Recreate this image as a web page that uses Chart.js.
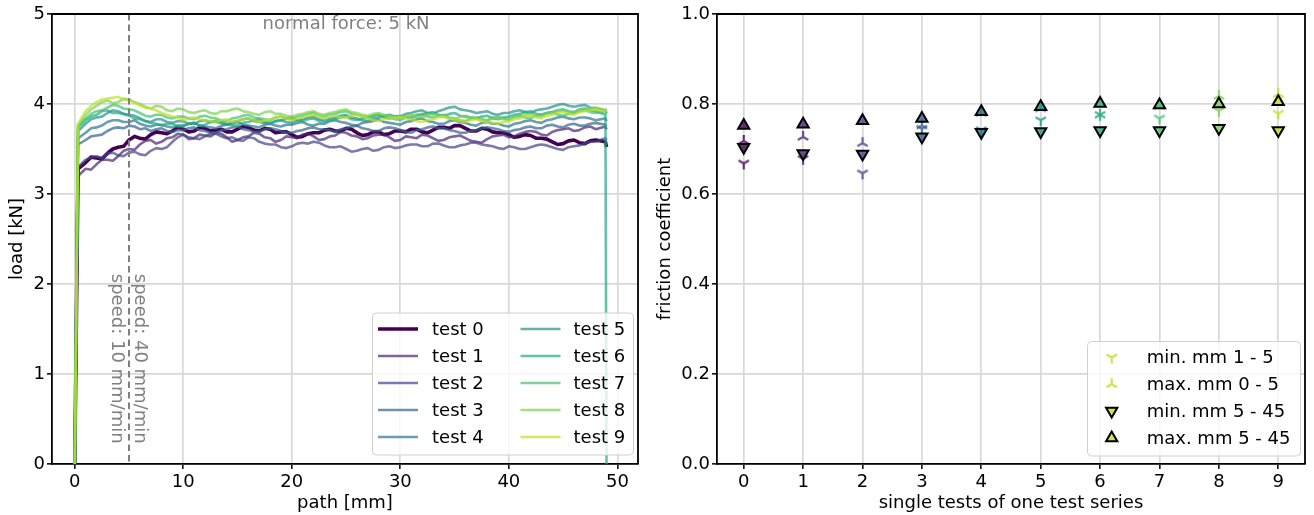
<!DOCTYPE html>
<html><head><meta charset="utf-8">
<script src="https://cdn.jsdelivr.net/npm/chart.js@4.4.1/dist/chart.umd.min.js"></script>
<style>
html,body{margin:0;padding:0;background:#fff;}
#wrap{position:relative;width:1314px;height:515px;overflow:hidden;}
canvas{position:absolute;top:0;}
</style></head><body>
<div id="wrap">
<canvas id="c1" width="650" height="515" style="left:0;width:650px;height:515px"></canvas>
<canvas id="c2" width="664" height="515" style="left:650px;width:664px;height:515px"></canvas>
</div>
<script>
// ---------- data: left chart (load vs path) ----------
const pathMm = [0,0.3,1,2,3,4,5,6,7,8,9,10,11,12,13,14,15,16,17,18,19,20,21,22,23,24,25,26,27,28,29,30,31,32,33,34,35,36,37,38,39,40,41,42,43,44,45,46,47,48,48.9,49.0];
const halfPathMm = [1.5,2.5,3.5,4.5,5.5,6.5,7.5,8.5,9.5,10.5,11.5,12.5,13.5,14.5,15.5,16.5,17.5,18.5,19.5,20.5,21.5,22.5,23.5,24.5,25.5,26.5,27.5,28.5,29.5,30.5,31.5,32.5,33.5,34.5,35.5,36.5,37.5,38.5,39.5,40.5,41.5,42.5,43.5,44.5,45.5,46.5,47.5];

const test0 = [0,3.28,3.35,3.40,3.45,3.52,3.60,3.62,3.66,3.68,3.70,3.72,3.70,3.73,3.71,3.69,3.72,3.74,3.70,3.72,3.69,3.66,3.64,3.68,3.71,3.70,3.73,3.68,3.66,3.69,3.67,3.70,3.72,3.69,3.71,3.74,3.76,3.73,3.70,3.72,3.68,3.66,3.64,3.65,3.62,3.58,3.56,3.60,3.56,3.60,3.58,3.52];
const test0Half = [3.41,3.39,3.50,3.53,3.64,3.61,3.69,3.67,3.74,3.69,3.74,3.70,3.72,3.69,3.75,3.71,3.73,3.68,3.69,3.63,3.67,3.68,3.72,3.70,3.72,3.65,3.69,3.66,3.70,3.69,3.72,3.68,3.74,3.73,3.76,3.70,3.73,3.69,3.68,3.63,3.66,3.62,3.61,3.55,3.59,3.57,3.59];
const test1 = [0,3.20,3.28,3.33,3.38,3.42,3.50,3.55,3.60,3.58,3.63,3.66,3.62,3.65,3.68,3.63,3.60,3.64,3.67,3.62,3.60,3.63,3.66,3.64,3.61,3.65,3.68,3.64,3.62,3.66,3.63,3.60,3.63,3.66,3.62,3.60,3.64,3.62,3.58,3.61,3.65,3.63,3.67,3.70,3.66,3.69,3.72,3.70,3.74,3.72,3.75,3.72];
const test1Half = [3.27,3.38,3.37,3.48,3.49,3.59,3.56,3.62,3.67,3.61,3.66,3.64,3.67,3.58,3.63,3.68,3.63,3.58,3.64,3.62,3.67,3.60,3.64,3.69,3.65,3.61,3.65,3.66,3.59,3.64,3.62,3.65,3.59,3.63,3.65,3.59,3.57,3.64,3.66,3.64,3.69,3.69,3.65,3.71,3.73,3.71,3.75];
const test2 = [0,3.30,3.38,3.42,3.45,3.43,3.46,3.44,3.48,3.50,3.58,3.66,3.62,3.64,3.67,3.62,3.60,3.63,3.58,3.55,3.52,3.53,3.57,3.58,3.54,3.52,3.50,3.48,3.51,3.49,3.53,3.52,3.55,3.53,3.56,3.54,3.52,3.55,3.57,3.54,3.51,3.53,3.50,3.52,3.55,3.52,3.49,3.53,3.56,3.58,3.62,3.60];
const test2Half = [3.41,3.40,3.46,3.42,3.47,3.43,3.51,3.52,3.63,3.63,3.61,3.67,3.64,3.63,3.59,3.62,3.56,3.55,3.51,3.56,3.56,3.57,3.52,3.53,3.47,3.50,3.48,3.52,3.51,3.54,3.55,3.53,3.56,3.52,3.54,3.57,3.55,3.53,3.50,3.52,3.50,3.54,3.54,3.50,3.52,3.54,3.58];
const test3 = [0,3.55,3.60,3.65,3.70,3.74,3.76,3.72,3.70,3.73,3.69,3.71,3.74,3.70,3.68,3.72,3.75,3.71,3.69,3.73,3.70,3.68,3.71,3.74,3.72,3.69,3.73,3.76,3.72,3.70,3.74,3.71,3.68,3.72,3.75,3.73,3.70,3.68,3.71,3.74,3.72,3.69,3.72,3.75,3.73,3.77,3.74,3.78,3.76,3.79,3.77,3.76];
const test3Half = [3.64,3.66,3.73,3.73,3.75,3.73,3.72,3.70,3.71,3.73,3.71,3.68,3.71,3.74,3.72,3.69,3.72,3.72,3.68,3.70,3.73,3.72,3.71,3.72,3.75,3.73,3.70,3.73,3.73,3.69,3.71,3.74,3.73,3.71,3.68,3.70,3.73,3.73,3.70,3.71,3.74,3.73,3.76,3.75,3.77,3.76,3.78];
const test4 = [0,3.62,3.68,3.74,3.80,3.82,3.80,3.78,3.75,3.77,3.74,3.76,3.79,3.75,3.73,3.77,3.80,3.76,3.74,3.78,3.75,3.77,3.80,3.76,3.78,3.82,3.79,3.76,3.80,3.83,3.79,3.77,3.81,3.84,3.80,3.78,3.82,3.79,3.76,3.80,3.78,3.75,3.79,3.82,3.79,3.83,3.86,3.83,3.85,3.82,3.84,3.81];
const test4Half = [3.73,3.76,3.82,3.80,3.82,3.76,3.77,3.75,3.76,3.78,3.76,3.74,3.76,3.78,3.77,3.75,3.77,3.76,3.77,3.79,3.77,3.78,3.81,3.80,3.77,3.79,3.81,3.80,3.78,3.80,3.83,3.81,3.78,3.81,3.80,3.77,3.79,3.78,3.76,3.78,3.81,3.80,3.82,3.85,3.84,3.85,3.84];
const test5 = [0,3.70,3.78,3.85,3.90,3.92,3.88,3.84,3.80,3.83,3.79,3.81,3.78,3.82,3.80,3.77,3.81,3.84,3.80,3.78,3.82,3.79,3.83,3.86,3.82,3.85,3.88,3.84,3.81,3.85,3.88,3.86,3.90,3.93,3.89,3.94,3.97,3.93,3.90,3.92,3.88,3.90,3.93,3.90,3.94,3.97,4.00,3.97,3.99,3.95,3.93,3.90];
const test5Half = [3.83,3.86,3.93,3.89,3.87,3.81,3.83,3.80,3.81,3.78,3.81,3.80,3.79,3.80,3.83,3.81,3.79,3.81,3.80,3.82,3.85,3.83,3.84,3.87,3.85,3.82,3.84,3.87,3.86,3.89,3.92,3.90,3.92,3.96,3.94,3.92,3.91,3.89,3.90,3.92,3.91,3.93,3.95,3.99,3.98,3.98,3.96];
const test6 = [0,3.74,3.82,3.88,3.93,3.90,3.87,3.83,3.79,3.76,3.78,3.75,3.79,3.77,3.81,3.78,3.76,3.80,3.83,3.79,3.82,3.85,3.81,3.84,3.80,3.83,3.86,3.82,3.85,3.88,3.84,3.87,3.84,3.88,3.91,3.87,3.90,3.86,3.84,3.87,3.83,3.86,3.89,3.92,3.88,3.91,3.94,3.91,3.95,3.92,3.88,0];
const test6Half = [3.86,3.92,3.90,3.89,3.84,3.81,3.78,3.78,3.75,3.78,3.76,3.80,3.80,3.76,3.79,3.82,3.80,3.81,3.84,3.82,3.83,3.81,3.82,3.85,3.83,3.84,3.87,3.85,3.86,3.85,3.87,3.90,3.88,3.89,3.87,3.85,3.86,3.84,3.85,3.88,3.91,3.89,3.90,3.93,3.92,3.94,3.93];
const test7 = [0,3.76,3.84,3.92,3.96,3.98,3.94,3.90,3.86,3.88,3.84,3.86,3.83,3.87,3.84,3.81,3.85,3.88,3.84,3.82,3.86,3.83,3.87,3.90,3.86,3.89,3.92,3.88,3.85,3.88,3.85,3.82,3.86,3.89,3.85,3.88,3.84,3.81,3.85,3.82,3.86,3.83,3.87,3.84,3.88,3.91,3.87,3.90,3.93,3.90,3.92,3.89];
const test7Half = [3.89,3.93,3.99,3.95,3.93,3.87,3.88,3.85,3.86,3.84,3.86,3.85,3.82,3.84,3.87,3.85,3.83,3.85,3.84,3.86,3.89,3.87,3.88,3.91,3.89,3.86,3.87,3.86,3.83,3.85,3.88,3.86,3.87,3.85,3.82,3.84,3.83,3.85,3.84,3.86,3.85,3.87,3.90,3.88,3.89,3.92,3.91];
const test8 = [0,3.76,3.88,3.98,4.04,4.02,4.05,4.00,3.95,3.97,3.92,3.94,3.90,3.93,3.89,3.92,3.95,3.91,3.88,3.92,3.89,3.86,3.89,3.92,3.88,3.91,3.94,3.90,3.87,3.90,3.87,3.84,3.88,3.85,3.89,3.86,3.83,3.87,3.84,3.81,3.85,3.82,3.86,3.89,3.86,3.90,3.93,3.90,3.94,3.96,3.93,3.95];
const test8Half = [3.94,4.02,4.01,4.06,4.02,3.97,3.98,3.93,3.95,3.91,3.92,3.90,3.92,3.94,3.92,3.89,3.91,3.89,3.87,3.88,3.91,3.89,3.90,3.93,3.91,3.88,3.89,3.88,3.85,3.87,3.86,3.88,3.87,3.84,3.86,3.85,3.82,3.84,3.83,3.85,3.88,3.87,3.89,3.92,3.91,3.93,3.95];
const test9 = [0,3.78,3.92,4.02,4.06,4.08,4.04,3.98,3.95,3.90,3.86,3.82,3.85,3.82,3.80,3.83,3.81,3.84,3.80,3.83,3.86,3.82,3.85,3.88,3.84,3.87,3.85,3.88,3.84,3.81,3.84,3.86,3.83,3.80,3.83,3.86,3.83,3.80,3.83,3.80,3.78,3.81,3.84,3.87,3.84,3.88,3.91,3.88,3.92,3.94,3.92,3.93];
const test9Half = [3.98,4.05,4.07,4.05,4.02,3.96,3.93,3.88,3.85,3.84,3.83,3.81,3.82,3.80,3.83,3.82,3.82,3.85,3.84,3.84,3.87,3.86,3.86,3.85,3.87,3.86,3.82,3.83,3.85,3.84,3.81,3.82,3.85,3.84,3.81,3.82,3.81,3.79,3.80,3.83,3.86,3.85,3.87,3.90,3.89,3.91,3.93];

const loadSeries = [test0,test1,test2,test3,test4,test5,test6,test7,test8,test9];
const loadSeriesHalf = [test0Half,test1Half,test2Half,test3Half,test4Half,test5Half,test6Half,test7Half,test8Half,test9Half];
const testLabels = ['test 0','test 1','test 2','test 3','test 4','test 5','test 6','test 7','test 8','test 9'];
const leftXTicks = [0,10,20,30,40,50];
const leftYTicks = [0,1,2,3,4,5];
const speedChangeMm = 5;

// ---------- data: right chart (friction coefficient) ----------
const testIndex = [0,1,2,3,4,5,6,7,8,9];
const minMm1to5  = [0.668,0.678,0.646,0.745,0.742,0.764,0.776,0.768,0.785,0.779];
const maxMm0to5  = [0.718,0.727,0.713,0.752,0.780,0.790,0.776,0.795,0.818,0.822];
const minMm5to45 = [0.704,0.690,0.689,0.727,0.737,0.739,0.741,0.741,0.746,0.741];
const maxMm5to45 = [0.752,0.755,0.763,0.768,0.783,0.794,0.801,0.798,0.800,0.805];
const rightYTicks = [0,0.2,0.4,0.6,0.8,1.0];
const rightLabels = ['min. mm 1 - 5','max. mm 0 - 5','min. mm 5 - 45','max. mm 5 - 45'];

// ---------- styling ----------
const viridis = ['#440154','#482475','#414487','#355f8d','#2a788e','#21918c','#22a884','#44bf70','#7ad151','#bddf26'];
function rgba(hex,a){const n=parseInt(hex.slice(1),16);return `rgba(${n>>16&255},${n>>8&255},${n&255},${a})`;}
const FONT = '"DejaVu Sans", "Liberation Sans", sans-serif';
const FS = 18;
Chart.defaults.font.family = FONT;
Chart.defaults.font.size = FS;
Chart.defaults.color = '#000';
const gridCol = '#d8d8d8';

function axisCommon(){
  return {
    grid:{color:gridCol,lineWidth:1.7,tickLength:5,tickColor:'#000',tickWidth:1.5},
    border:{color:'#000',width:1.8},
  };
}

// ---------- left chart ----------
const lineDatasets = loadSeries.map((s,i)=>({
  label: testLabels[i],
  data: pathMm.map((x,k)=>({x:x,y:s[k]}))
        .concat(halfPathMm.map((x,k)=>({x:x,y:loadSeriesHalf[i][k]})))
        .sort((a,b)=>a.x-b.x),
  borderColor: i===0 ? viridis[i] : rgba(viridis[i],0.7),
  borderWidth: i===0 ? 3.6 : 2.6,
  pointRadius:0, tension:0, fill:false,
  borderJoinStyle:'round',
  order: 10-i
}));

const leftDeco = {
  id:'leftDeco',
  afterDatasetsDraw(chart){
    const {ctx, chartArea:a, scales:{x,y}} = chart;
    ctx.save();
    ctx.beginPath(); ctx.rect(a.left,a.top,a.right-a.left,a.bottom-a.top); ctx.clip();
    const px = Math.round(x.getPixelForValue(speedChangeMm));
    ctx.setLineDash([6.5,4]); ctx.strokeStyle='#7f7f7f'; ctx.lineWidth=2;
    ctx.beginPath(); ctx.moveTo(px,a.top); ctx.lineTo(px,a.bottom); ctx.stroke();
    ctx.restore();
    ctx.save();
    ctx.fillStyle='#808080'; ctx.font = `${FS}px ${FONT}`;
    ctx.textAlign='center'; ctx.textBaseline='middle';
    ctx.fillText('normal force: 5 kN', x.getPixelForValue(25), y.getPixelForValue(4.88));
    const yc = y.getPixelForValue(1.17);
    [[3.84,'speed: 10 mm/min'],[6.0,'speed: 40 mm/min']].forEach(([xv,t])=>{
      ctx.save(); ctx.translate(x.getPixelForValue(xv), yc); ctx.rotate(Math.PI/2);
      ctx.fillText(t,0,0); ctx.restore();
    });
    ctx.restore();
    ctx.save(); ctx.strokeStyle='#000'; ctx.lineWidth=1.8;
    ctx.beginPath(); ctx.moveTo(a.left,a.top); ctx.lineTo(a.right,a.top); ctx.lineTo(a.right,a.bottom); ctx.stroke();
    ctx.restore();
  },
  afterDraw(chart){
    const ctx = chart.ctx;
    ctx.save();
    const bx=372.5,by=313,bw=261,bh=142,r=4;
    ctx.beginPath(); ctx.roundRect(bx,by,bw,bh,r);
    ctx.fillStyle='rgba(255,255,255,0.8)'; ctx.fill();
    ctx.strokeStyle='#d0d0d0'; ctx.lineWidth=1; ctx.stroke();
    ctx.font = `${FS}px ${FONT}`; ctx.textBaseline='middle'; ctx.textAlign='left';
    const ds = chart.data.datasets;
    ds.forEach((d,i)=>{
      const col = i<5?0:1, row = i%5;
      const lx = col===0?378:520.5, tx = col===0?432:573.5;
      const yy = 329 + row*27;
      ctx.strokeStyle=d.borderColor; ctx.lineWidth=d.borderWidth; ctx.setLineDash([]);
      ctx.beginPath(); ctx.moveTo(lx,yy); ctx.lineTo(lx+40,yy); ctx.stroke();
      ctx.fillStyle='#000'; ctx.fillText(d.label,tx,yy+1);
    });
    ctx.restore();
  }
};

new Chart(document.getElementById('c1'),{
  type:'line',
  data:{datasets:lineDatasets},
  options:{
    responsive:false, animation:false, devicePixelRatio:1,
    layout:{padding:{top:14,right:12,left:0,bottom:0}},
    plugins:{legend:{display:false},tooltip:{enabled:false}},
    scales:{
      x:Object.assign(axisCommon(),{
        type:'linear', min:-2.1, max:51.9,
        afterBuildTicks: s=>{ s.ticks = leftXTicks.map(v=>({value:v})); },
        ticks:{padding:3, maxRotation:0, autoSkip:false, callback:v=>String(v)},
        title:{display:true,text:'path [mm]',padding:{top:0,bottom:1}},
        afterFit: s=>{ s.height = 51; }
      }),
      y:Object.assign(axisCommon(),{
        type:'linear', min:0, max:5,
        afterBuildTicks: s=>{ s.ticks = leftYTicks.map(v=>({value:v})); },
        ticks:{padding:2, autoSkip:false, callback:v=>String(v)},
        title:{display:true,text:'load [kN]',padding:{top:7,bottom:0}},
        afterFit: s=>{ s.width = 52; }
      })
    }
  },
  plugins:[leftDeco]
});

// ---------- right chart ----------
function drawTri(ctx,x,y,up,color,len,lw){
  ctx.save(); ctx.strokeStyle=color; ctx.lineWidth=lw; ctx.lineCap='butt';
  const s = up ? -1 : 1;
  ctx.beginPath();
  ctx.moveTo(x,y); ctx.lineTo(x, y + s*len);
  ctx.moveTo(x,y); ctx.lineTo(x - 0.866*len, y - s*0.5*len);
  ctx.moveTo(x,y); ctx.lineTo(x + 0.866*len, y - s*0.5*len);
  ctx.stroke(); ctx.restore();
}
function triCanvas(up,color){
  const c=document.createElement('canvas'); c.width=18; c.height=18;
  drawTri(c.getContext('2d'),9,9,up,color,6,2.2);
  return c;
}
function drawTriangle(ctx,x,y,down,fill,r){
  ctx.save(); ctx.translate(x,y); if(down) ctx.rotate(Math.PI);
  ctx.beginPath(); ctx.moveTo(0,-r); ctx.lineTo(0.866*r,0.5*r); ctx.lineTo(-0.866*r,0.5*r); ctx.closePath();
  ctx.fillStyle=fill; ctx.fill(); ctx.strokeStyle='#000'; ctx.lineWidth=2; ctx.lineJoin='miter'; ctx.stroke();
  ctx.restore();
}
const MA = 0.8;
const markerCols = viridis.map(c=>rgba(c,MA));
const toPts = arr => testIndex.map((x,k)=>({x:x,y:arr[k]}));

const rightDeco = {
  id:'rightDeco',
  afterDatasetsDraw(chart){
    const {ctx, chartArea:a} = chart;
    ctx.save(); ctx.strokeStyle='#000'; ctx.lineWidth=1.8;
    ctx.beginPath(); ctx.moveTo(a.left,a.top); ctx.lineTo(a.right,a.top); ctx.lineTo(a.right,a.bottom); ctx.stroke();
    ctx.restore();
  },
  afterDraw(chart){
    const ctx = chart.ctx;
    ctx.save();
    const bx=437.5,by=341.5,bw=213,bh=114.5,r=4;
    ctx.beginPath(); ctx.roundRect(bx,by,bw,bh,r);
    ctx.fillStyle='rgba(255,255,255,0.8)'; ctx.fill();
    ctx.strokeStyle='#d0d0d0'; ctx.lineWidth=1; ctx.stroke();
    ctx.font = `${FS}px ${FONT}`; ctx.textBaseline='middle'; ctx.textAlign='left';
    const lc = markerCols[9];
    rightLabels.forEach((t,i)=>{
      const yy = 357.5 + i*26.8, mx = 461.7;
      if(i===0) drawTri(ctx,mx,yy,false,lc,6,2.2);
      else if(i===1) drawTri(ctx,mx,yy,true,lc,6,2.2);
      else if(i===2) drawTriangle(ctx,mx,yy,true,lc,6.5);
      else drawTriangle(ctx,mx,yy,false,lc,6.5);
      ctx.fillStyle='#000'; ctx.fillText(t,496.7,yy+1);
    });
    ctx.restore();
  }
};

new Chart(document.getElementById('c2'),{
  type:'scatter',
  data:{datasets:[
    {label:rightLabels[0], data:toPts(minMm1to5), pointStyle:markerCols.map(c=>triCanvas(false,c)), pointRadius:6, order:4},
    {label:rightLabels[1], data:toPts(maxMm0to5), pointStyle:markerCols.map(c=>triCanvas(true,c)), pointRadius:6, order:3},
    {label:rightLabels[2], data:toPts(minMm5to45), pointStyle:'triangle', pointRotation:180, pointRadius:6.5,
      pointBackgroundColor:markerCols, pointBorderColor:'#000', pointBorderWidth:2, order:2},
    {label:rightLabels[3], data:toPts(maxMm5to45), pointStyle:'triangle', pointRotation:0, pointRadius:6.5,
      pointBackgroundColor:markerCols, pointBorderColor:'#000', pointBorderWidth:2, order:1}
  ]},
  options:{
    responsive:false, animation:false, devicePixelRatio:1,
    layout:{padding:{top:14,right:9,left:0,bottom:0}},
    plugins:{legend:{display:false},tooltip:{enabled:false}},
    scales:{
      x:Object.assign(axisCommon(),{
        type:'linear', min:-0.45, max:9.45,
        afterBuildTicks: s=>{ s.ticks = testIndex.map(v=>({value:v})); },
        ticks:{padding:3, maxRotation:0, autoSkip:false, callback:v=>String(v)},
        title:{display:true,text:'single tests of one test series',padding:{top:0,bottom:1}},
        afterFit: s=>{ s.height = 51; }
      }),
      y:Object.assign(axisCommon(),{
        type:'linear', min:0, max:1,
        afterBuildTicks: s=>{ s.ticks = rightYTicks.map(v=>({value:v})); },
        ticks:{padding:2, autoSkip:false, callback:v=>Number(v).toFixed(1)},
        title:{display:true,text:'friction coefficient',padding:{top:5,bottom:0}},
        afterFit: s=>{ s.width = 67; }
      })
    }
  },
  plugins:[rightDeco]
});
</script>
</body></html>
